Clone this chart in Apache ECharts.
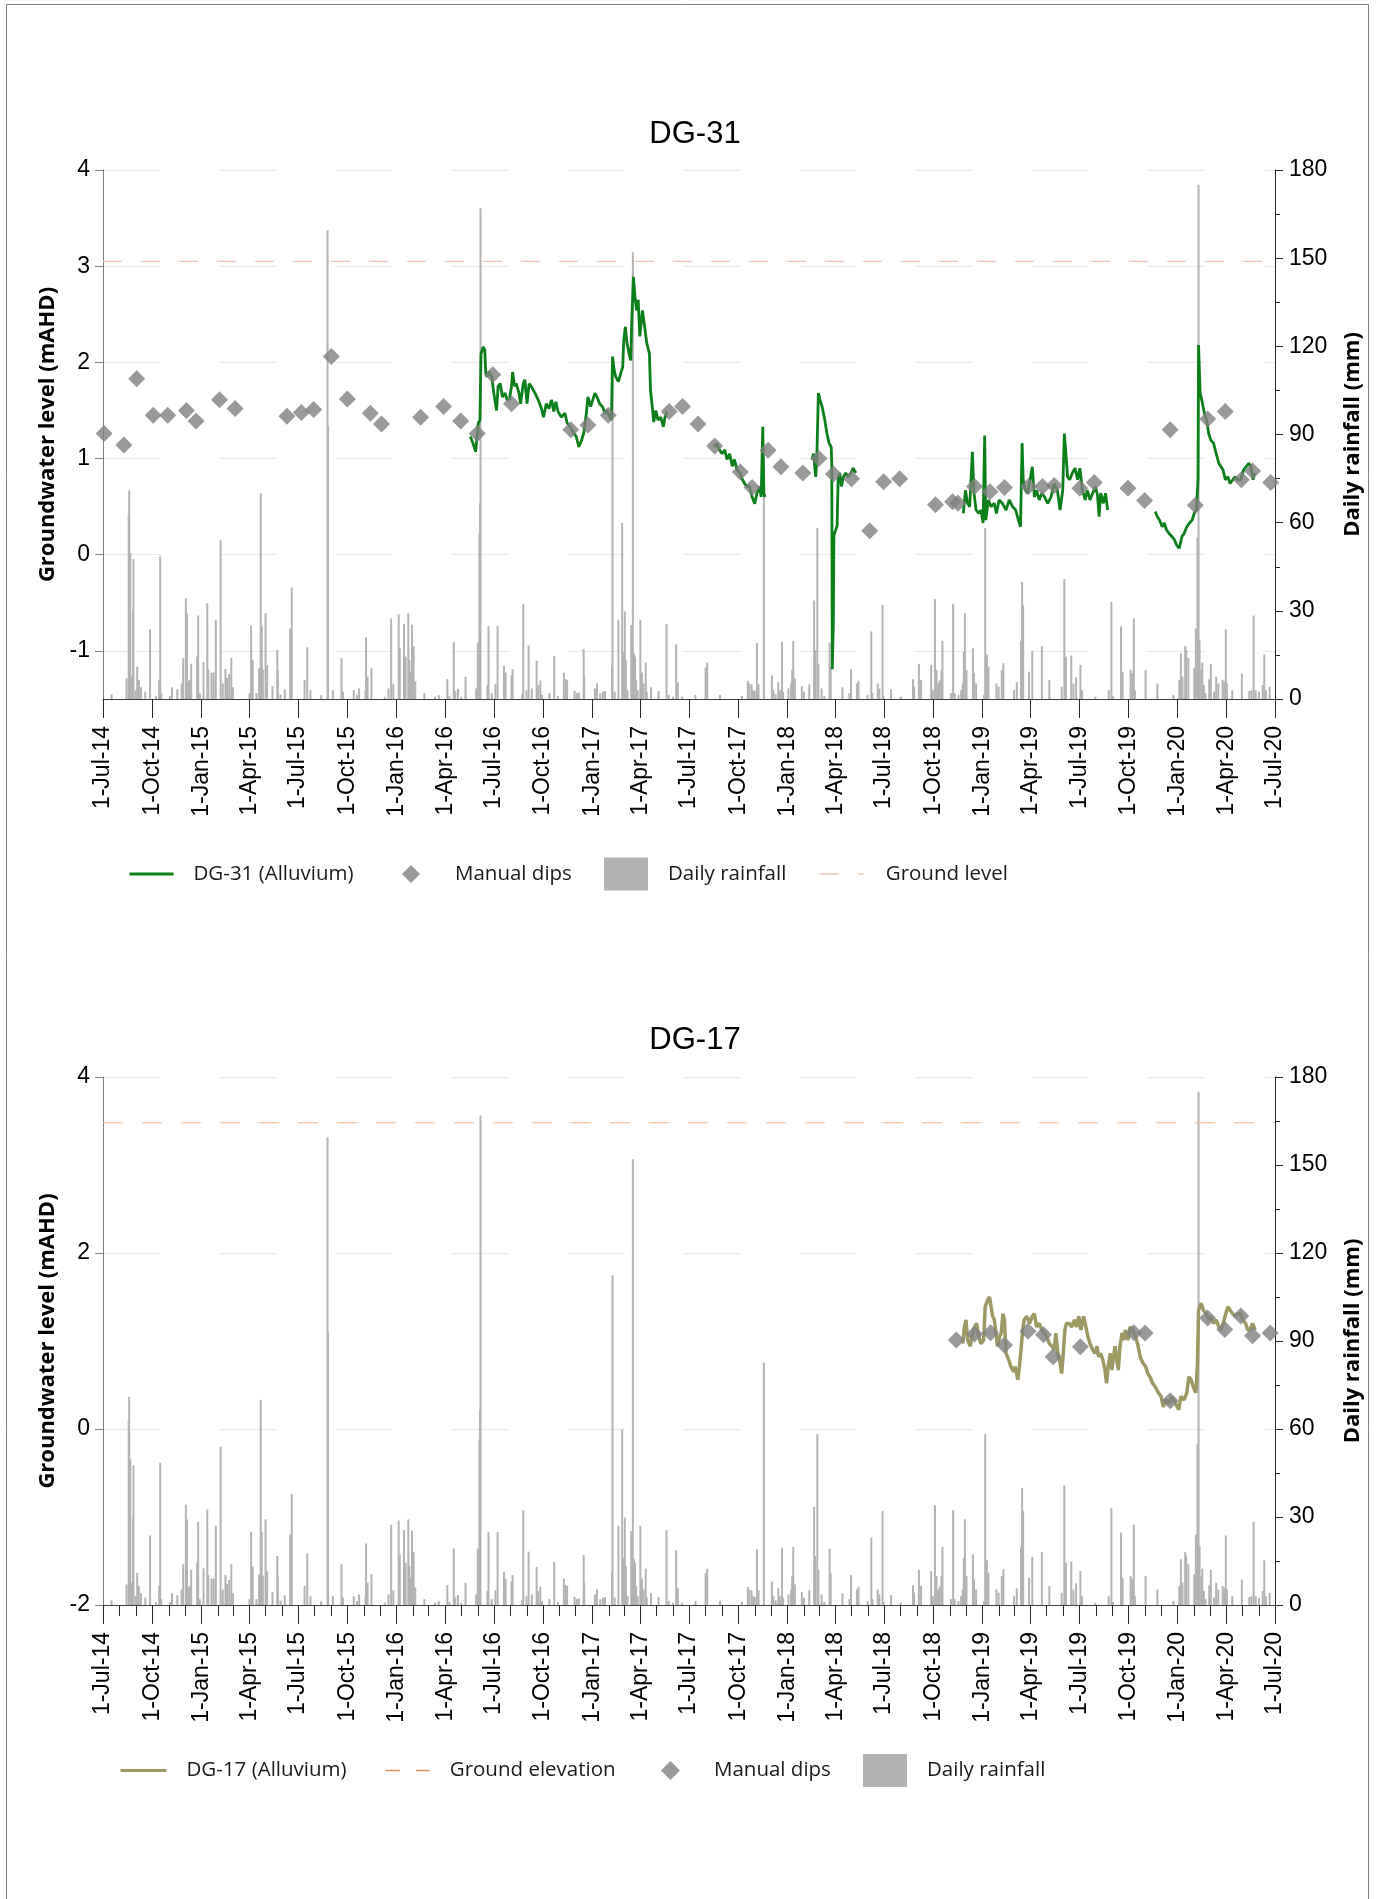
<!DOCTYPE html>
<html><head><meta charset="utf-8">
<script src="https://cdn.jsdelivr.net/npm/echarts@6/dist/echarts.min.js"></script>
<style>html,body{margin:0;padding:0;background:#fff}#c{width:1381px;height:1899px}</style>
</head><body><div id="c"></div>
<script>
// ---------------- DATA ----------------
const X_START = '2014-07-01', X_END = '2020-07-01';
const X_TICKS = ['2014-07-01','2014-10-01','2015-01-01','2015-04-01','2015-07-01','2015-10-01','2016-01-01','2016-04-01','2016-07-01','2016-10-01','2017-01-01','2017-04-01','2017-07-01','2017-10-01','2018-01-01','2018-04-01','2018-07-01','2018-10-01','2019-01-01','2019-04-01','2019-07-01','2019-10-01','2020-01-01','2020-04-01','2020-07-01'];
const X_TICK_LABELS = ['1-Jul-14','1-Oct-14','1-Jan-15','1-Apr-15','1-Jul-15','1-Oct-15','1-Jan-16','1-Apr-16','1-Jul-16','1-Oct-16','1-Jan-17','1-Apr-17','1-Jul-17','1-Oct-17','1-Jan-18','1-Apr-18','1-Jul-18','1-Oct-18','1-Jan-19','1-Apr-19','1-Jul-19','1-Oct-19','1-Jan-20','1-Apr-20','1-Jul-20'];
const GW31_TICKS = [-1, 0, 1, 2, 3, 4];
const GW17_TICKS = [-2, 0, 2, 4];
const RAIN_TICKS = [0, 30, 60, 90, 120, 150, 180];

const GROUND_LEVEL_31 = 3.05;
const GROUND_ELEV_17 = 3.48;

// Daily rainfall (mm)
const RAINFALL = [
['2014-07-17',1.6],['2014-08-14',7],['2014-08-18',62.7],['2014-08-19',71],['2014-08-21',49.7],['2014-08-24',7.6],['2014-08-26',30],['2014-08-27',47.6],['2014-08-31',3],['2014-09-03',11],['2014-09-06',6.5],['2014-09-10',4],['2014-09-18',2.5],['2014-09-27',23.7],['2014-10-08',1],['2014-10-14',6.5],['2014-10-16',48.5],['2014-10-18',2],['2014-11-03',1],['2014-11-07',4],['2014-11-17',3.3],['2014-11-25',5.3],['2014-11-28',13.9],['2014-12-03',34.2],['2014-12-05',29.2],['2014-12-08',6],['2014-12-10',6.5],['2014-12-13',12],['2014-12-24',14.4],['2014-12-26',28.4],['2014-12-29',2],
['2015-01-05',12.5],['2015-01-12',32.6],['2015-01-14',10.2],['2015-01-20',9],['2015-01-24',9],['2015-01-28',27],['2015-02-06',54],['2015-02-10',5.3],['2015-02-15',10.2],['2015-02-18',7.2],['2015-02-22',8.5],['2015-02-26',14],['2015-03-01',4],['2015-04-01',2],['2015-04-04',25],['2015-04-07',13.2],['2015-04-14',2],['2015-04-19',10.4],['2015-04-22',70],['2015-04-24',24.8],['2015-04-26',10],['2015-05-01',29.2],['2015-05-04',11.5],['2015-05-14',4.4],['2015-05-23',16.7],['2015-05-24',9.8],['2015-05-29',1.5],['2015-06-06',3.3],['2015-06-16',24],['2015-06-19',37.9],['2015-07-13',6.5],['2015-07-18',17.6],['2015-07-24',3],['2015-08-13',1.3],['2015-08-25',159.5],['2015-08-26',92.8],['2015-09-04',3],['2015-09-20',13.9],['2015-09-23',2.5],['2015-10-13',3],['2015-10-19',1.3],['2015-10-23',3.6],['2015-11-04',3],['2015-11-05',21],['2015-11-08',7.6],['2015-11-15',10.5],['2015-12-10',0.8],['2015-12-17',3.6],['2015-12-22',27.4],['2015-12-26',5],
['2016-01-05',28.8],['2016-01-07',17.3],['2016-01-15',25.5],['2016-01-18',14.4],['2016-01-23',29.2],['2016-01-25',13.2],['2016-01-28',9.3],['2016-01-30',25.3],['2016-02-02',18],['2016-02-05',6],['2016-02-22',2],['2016-03-13',0.8],['2016-03-20',1.3],['2016-04-05',6.8],['2016-04-09',1],['2016-04-17',19.3],['2016-04-20',2.7],['2016-04-25',3.4],['2016-05-01',0.8],['2016-05-09',7.6],['2016-05-29',3.6],['2016-06-01',19.2],['2016-06-04',56.5],['2016-06-05',66.7],['2016-06-06',167],['2016-06-19',4.8],['2016-06-21',24.8],['2016-06-27',2],['2016-07-04',5],['2016-07-08',24.9],['2016-07-20',11.3],['2016-07-23',9],['2016-08-03',8],['2016-08-05',10.2],['2016-08-23',1.6],['2016-08-25',32.3],['2016-08-31',3],['2016-09-04',18.2],['2016-09-10',3.6],['2016-09-19',13],['2016-09-22',4.8],['2016-09-26',6.3],['2016-09-29',1.4],['2016-10-13',2],['2016-10-22',14.7],['2016-10-29',1],['2016-11-09',9],['2016-11-12',6.8],['2016-11-15',6.5],['2016-11-29',2.8],['2016-12-03',2],['2016-12-07',2.2],['2016-12-16',17],['2016-12-17',7.6],
['2017-01-06',3.6],['2017-01-10',5.3],['2017-01-16',1.9],['2017-01-21',2.5],['2017-01-25',2.7],['2017-02-07',11.5],['2017-02-08',112.4],['2017-02-12',2.5],['2017-02-19',27],['2017-02-26',59.9],['2017-02-28',16],['2017-03-03',29.8],['2017-03-05',13.2],['2017-03-08',3],['2017-03-15',25.2],['2017-03-18',152],['2017-03-20',15.6],['2017-03-22',14.4],['2017-03-24',6.5],['2017-03-27',3],['2017-04-01',27],['2017-04-04',9],['2017-04-07',5.3],['2017-04-11',12.4],['2017-04-13',2.5],['2017-04-21',4],['2017-05-05',2.7],['2017-05-20',25.5],['2017-05-24',1.4],['2017-06-01',0.8],['2017-06-07',18.6],['2017-06-10',5.7],['2017-06-18',0.8],['2017-07-13',1.4],['2017-08-01',10.8],['2017-08-04',12.4],['2017-08-28',1.4],['2017-10-08',1.1],['2017-10-19',6.2],['2017-10-22',5.3],['2017-10-26',5],['2017-10-29',3],['2017-11-01',2.7],['2017-11-05',19],['2017-11-08',5],['2017-11-18',82.6],['2017-12-03',8],['2017-12-06',3],['2017-12-10',1.6],['2017-12-15',5.7],['2017-12-18',3],['2017-12-22',19.5],['2017-12-24',2.5],
['2018-01-03',3.6],['2018-01-08',5.3],['2018-01-10',9.9],['2018-01-12',19.8],['2018-01-15',7],['2018-01-28',4.4],['2018-02-01',2.5],['2018-02-11',5],['2018-02-20',33.5],['2018-02-22',16.7],['2018-02-26',58.2],['2018-02-28',12],['2018-03-06',3.6],['2018-03-11',1],['2018-03-21',19.2],['2018-03-23',11],['2018-04-14',4],['2018-04-27',2],['2018-04-30',10.2],['2018-05-11',5.3],['2018-05-14',6.2],['2018-05-31',1.4],['2018-06-07',23],['2018-06-09',2],['2018-06-19',5.3],['2018-06-22',3.6],['2018-06-28',32],['2018-06-30',1],['2018-07-14',3.3],['2018-08-01',0.8],['2018-08-24',6.7],['2018-08-26',4.2],['2018-09-04',12],['2018-09-08',6.5],['2018-09-27',11.6],['2018-09-30',3],['2018-10-04',34],['2018-10-07',9.9],['2018-10-10',5.3],['2018-10-13',6.3],['2018-10-16',9.9],['2018-10-18',19.8],['2018-11-03',2],['2018-11-07',32.3],['2018-11-10',2],['2018-11-17',1.4],['2018-11-22',3],['2018-11-25',5.3],['2018-11-27',16],['2018-11-29',29.2],['2018-12-02',9.9],['2018-12-14',17.3],['2018-12-16',8.8],['2018-12-20',5.3],
['2019-01-04',1.4],['2019-01-06',58.2],['2019-01-09',15.2],['2019-01-12',11],['2019-01-27',5.3],['2019-01-31',4.2],['2019-02-06',9.9],['2019-02-09',12.2],['2019-03-01',3],['2019-03-06',5.7],['2019-03-14',19.8],['2019-03-16',39.9],['2019-03-18',32],['2019-03-29',9.3],['2019-04-04',16.4],['2019-04-22',18],['2019-05-06',6.5],['2019-05-29',4.2],['2019-06-03',40.8],['2019-06-06',14.4],['2019-06-16',14.8],['2019-06-20',5.3],['2019-06-25',7.4],['2019-07-03',11.6],['2019-07-06',3],['2019-07-31',0.8],['2019-08-25',3],['2019-08-30',33],['2019-09-02',1],['2019-09-17',24.7],['2019-09-20',9.3],['2019-10-05',9.9],['2019-10-08',8.8],['2019-10-11',27.4],['2019-10-13',3],['2019-11-02',9.9],['2019-11-24',5.3],['2019-12-24',1.4],
['2020-01-04',6.5],['2020-01-07',15.6],['2020-01-10',7.6],['2020-01-15',18],['2020-01-17',16.7],['2020-01-21',13.9],['2020-02-01',10.5],['2020-02-04',24],['2020-02-07',55],['2020-02-09',175],['2020-02-11',20],['2020-02-14',9.9],['2020-02-16',12.4],['2020-02-19',4.8],['2020-02-22',2],['2020-02-29',6.7],['2020-03-03',12],['2020-03-09',2.5],['2020-03-13',7.6],['2020-03-17',5.3],['2020-03-25',6.5],['2020-03-28',5.9],['2020-03-31',23.7],['2020-04-02',5.3],['2020-04-12',3],['2020-04-30',8.7],['2020-05-14',2.7],['2020-05-18',3],['2020-05-22',28.4],['2020-05-26',3],['2020-06-01',2.5],['2020-06-08',4.8],['2020-06-11',15.2],['2020-06-14',3],['2020-06-21',4.2]
];

// Manual dips (mAHD)
const DIPS_31 = [['2014-07-03',1.26],['2014-08-09',1.14],['2014-09-02',1.83],['2014-10-03',1.45],['2014-10-30',1.45],['2014-12-04',1.50],['2014-12-22',1.39],['2015-02-04',1.61],['2015-03-05',1.52],['2015-06-10',1.44],['2015-07-07',1.48],['2015-07-30',1.51],['2015-09-01',2.06],['2015-10-01',1.62],['2015-11-13',1.47],['2015-12-04',1.36],['2016-02-15',1.43],['2016-03-29',1.54],['2016-04-30',1.39],['2016-05-31',1.26],['2016-06-29',1.87],['2016-08-03',1.57],['2016-11-22',1.30],['2016-12-24',1.35],['2017-01-31',1.45],['2017-05-25',1.49],['2017-06-19',1.54],['2017-07-18',1.36],['2017-08-18',1.13],['2017-10-05',0.86],['2017-10-27',0.70],['2017-11-26',1.085],['2017-12-20',0.915],['2018-01-30',0.85],['2018-03-01',1.0],['2018-03-28',0.84],['2018-05-01',0.79],['2018-06-04',0.25],['2018-06-30',0.76],['2018-07-30',0.79],['2018-10-05',0.52],['2018-11-06',0.55],['2018-11-16',0.535],['2018-12-17',0.71],['2019-01-15',0.655],['2019-02-11',0.70],['2019-03-28',0.71],['2019-04-23',0.71],['2019-05-15',0.72],['2019-07-02',0.69],['2019-07-29',0.75],['2019-09-30',0.69],['2019-10-31',0.565],['2019-12-18',1.30],['2020-02-03',0.515],['2020-02-26',1.41],['2020-03-30',1.49],['2020-04-29',0.78],['2020-05-20',0.87],['2020-06-23',0.75]];
const DIPS_17 = [['2018-11-13',1.01],['2018-12-17',1.08],['2019-01-16',1.095],['2019-02-11',0.955],['2019-03-27',1.11],['2019-04-25',1.07],['2019-05-13',0.82],['2019-07-03',0.935],['2019-10-11',1.095],['2019-11-01',1.09],['2019-12-18',0.32],['2020-02-26',1.26],['2020-03-29',1.13],['2020-04-28',1.285],['2020-05-20',1.06],['2020-06-22',1.09]];

// Logger records: [days since LOGGER_ORIGIN, mAHD], one array per continuous record
const LOGGER_ORIGIN = '2014-07-01';
const DG31_REC_A = [[687,1.23],[692,1.16],[697,1.07],[702,1.37],[705,1.40],[707,2.09],[711,2.16],[714,2.13],[716,1.88],[718,1.85],[722,1.90],[727,1.85],[731,1.68],[736,1.50],[739,1.75],[743,1.78],[747,1.64],[752,1.68],[756,1.61],[760,1.61],[764,1.75],[766,1.90],[770,1.75],[773,1.78],[778,1.68],[781,1.57],[786,1.78],[789,1.82],[793,1.57],[797,1.78],[801,1.75],[808,1.68],[814,1.61],[820,1.52],[824,1.43],[829,1.57],[834,1.52],[839,1.61],[843,1.49],[847,1.59],[851,1.49],[857,1.43],[864,1.47],[868,1.37],[874,1.33],[881,1.26],[885,1.23],[890,1.12],[895,1.19],[899,1.26],[904,1.47],[907,1.64],[912,1.54],[916,1.61],[920,1.68],[924,1.64],[929,1.57],[934,1.54],[939,1.47],[942,1.50],[948,1.43],[951,1.40],[953,2.06],[956,1.92],[959,1.85],[964,1.80],[968,1.88],[972,1.95],[974,2.23],[977,2.37],[980,2.20],[984,2.09],[987,2.02],[989,2.44],[992,2.89],[995,2.68],[998,2.54],[1001,2.65],[1004,2.27],[1009,2.54],[1014,2.33],[1017,2.20],[1022,2.09],[1024,1.71],[1028,1.50],[1030,1.38],[1034,1.50],[1038,1.40],[1043,1.43],[1048,1.33],[1051,1.43],[1055,1.49]];
const DG31_REC_B = [[1144,1.12],[1148,1.16],[1153,1.09],[1158,1.05],[1163,1.09],[1167,0.99],[1172,1.05],[1177,0.92],[1181,0.99],[1186,0.88],[1191,0.85],[1196,0.78],[1200,0.74],[1204,0.71],[1209,0.71],[1214,0.60],[1219,0.53],[1223,0.64],[1228,0.71],[1231,0.60],[1234,1.33],[1236,0.64],[1238,0.60]];
const DG31_REC_C = [[1326,0.99],[1329,1.05],[1333,0.81],[1335,0.99],[1338,1.68],[1341,1.61],[1345,1.54],[1350,1.40],[1354,1.26],[1358,1.16],[1362,1.12],[1363,0.95],[1364,-1.19],[1366,-0.70],[1367,0.20],[1370,0.25],[1373,0.30],[1375,0.80],[1378,0.85],[1381,0.71],[1385,0.81],[1389,0.85],[1394,0.81],[1399,0.85],[1403,0.90],[1408,0.85]];
const DG31_REC_D = [[1609,0.43],[1613,0.67],[1617,0.535],[1621,0.50],[1626,1.07],[1629,0.64],[1633,0.465],[1638,0.43],[1642,0.465],[1646,0.33],[1649,1.24],[1651,0.36],[1656,0.57],[1661,0.50],[1667,0.535],[1671,0.43],[1676,0.57],[1682,0.535],[1689,0.465],[1695,0.57],[1701,0.50],[1707,0.465],[1712,0.36],[1716,0.29],[1719,1.16],[1721,0.78],[1725,0.67],[1729,0.64],[1734,0.78],[1738,0.915],[1742,0.60],[1746,0.67],[1751,0.57],[1756,0.64],[1761,0.60],[1767,0.535],[1773,0.60],[1779,0.74],[1785,0.67],[1790,0.465],[1795,0.67],[1798,1.26],[1801,1.05],[1804,0.81],[1808,0.78],[1813,0.85],[1818,0.90],[1823,0.78],[1827,0.90],[1832,0.67],[1837,0.57],[1841,0.67],[1846,0.57],[1851,0.64],[1856,0.71],[1860,0.62],[1863,0.395],[1866,0.64],[1871,0.535],[1875,0.64],[1879,0.465]];
const DG31_REC_E = [[1968,0.45],[1972,0.395],[1976,0.36],[1981,0.29],[1985,0.33],[1989,0.26],[1994,0.22],[1999,0.19],[2004,0.155],[2008,0.10],[2013,0.067],[2018,0.19],[2022,0.22],[2027,0.29],[2032,0.33],[2037,0.36],[2041,0.43],[2045,0.465],[2048,0.78],[2049,2.18],[2052,1.68],[2055,1.61],[2060,1.47],[2064,1.40],[2068,1.26],[2072,1.19],[2077,1.16],[2082,1.05],[2087,0.95],[2091,0.915],[2095,0.88],[2099,0.78],[2104,0.81],[2108,0.74],[2113,0.78],[2118,0.81],[2122,0.78],[2128,0.78],[2133,0.88],[2138,0.915],[2143,0.95],[2147,0.915],[2151,0.78],[2154,0.85]];
const DG17_REC = [[1608,0.97],[1611,1.16],[1614,1.24],[1617,1.01],[1622,0.94],[1625,1.05],[1630,1.16],[1634,1.20],[1638,1.05],[1642,0.97],[1647,1.01],[1650,1.39],[1655,1.47],[1658,1.50],[1661,1.39],[1664,1.28],[1667,1.24],[1670,1.09],[1673,0.94],[1677,1.05],[1680,1.09],[1683,1.31],[1686,1.24],[1689,0.86],[1694,0.785],[1698,0.71],[1703,0.65],[1706,0.71],[1711,0.56],[1714,0.71],[1717,0.90],[1720,1.125],[1723,1.24],[1728,1.28],[1733,1.20],[1738,1.28],[1742,1.31],[1746,1.16],[1751,1.20],[1756,1.125],[1761,1.09],[1765,1.05],[1770,0.97],[1775,0.94],[1779,0.90],[1782,1.09],[1786,0.86],[1790,0.75],[1793,0.63],[1796,0.86],[1799,1.125],[1802,1.20],[1807,1.20],[1812,1.16],[1817,1.24],[1821,1.16],[1825,1.28],[1829,1.125],[1834,1.28],[1837,1.20],[1842,1.05],[1846,0.97],[1851,0.90],[1855,0.86],[1859,0.94],[1862,0.82],[1866,0.86],[1870,0.785],[1874,0.67],[1877,0.52],[1880,0.71],[1884,0.86],[1887,0.67],[1890,0.82],[1893,0.94],[1896,0.785],[1899,0.67],[1902,0.94],[1906,1.09],[1909,1.01],[1912,1.125],[1917,1.01],[1921,1.16],[1926,1.125],[1931,1.05],[1935,0.97],[1940,0.82],[1945,0.75],[1950,0.71],[1954,0.63],[1958,0.595],[1963,0.52],[1968,0.48],[1973,0.42],[1979,0.37],[1983,0.25],[1988,0.33],[1994,0.29],[1999,0.37],[2006,0.29],[2012,0.22],[2016,0.37],[2022,0.33],[2027,0.41],[2031,0.595],[2035,0.56],[2039,0.48],[2044,0.41],[2047,0.75],[2049,1.35],[2054,1.43],[2058,1.35],[2063,1.31],[2068,1.24],[2072,1.28],[2077,1.20],[2082,1.24],[2087,1.16],[2091,1.125],[2095,1.20],[2100,1.31],[2104,1.39],[2108,1.35],[2113,1.31],[2118,1.28],[2122,1.31],[2127,1.31],[2132,1.24],[2137,1.20],[2141,1.125],[2145,1.125],[2150,1.20],[2155,1.125]];

// ---------------- HELPERS ----------------
function ts(s){ const p = s.split('-').map(Number); return new Date(p[0], p[1]-1, p[2]).getTime(); }
const ORIGIN = LOGGER_ORIGIN.split('-').map(Number);
function dayTs(n){ return new Date(ORIGIN[0], ORIGIN[1]-1, ORIGIN[2] + n).getTime(); }
function joinRecords(recs){
  const out = [];
  recs.forEach((r, i) => {
    if (i > 0) out.push([dayTs(recs[i-1][recs[i-1].length-1][0] + 1), null]);
    r.forEach(p => out.push([dayTs(p[0]), p[1]]));
  });
  return out;
}
const X_MIN = ts(X_START), X_MAX = ts(X_END);
const X_TICK_TS = X_TICKS.map(ts);
const LABEL_BY_TS = {}; X_TICK_TS.forEach((t,i) => LABEL_BY_TS[t] = X_TICK_LABELS[i]);
const MONTH_TICKS = [];
for (let y = 2014, m = 6; y < 2020 || (y === 2020 && m <= 6); ) { MONTH_TICKS.push(new Date(y, m, 1).getTime()); m++; if (m > 11) { m = 0; y++; } }

const rainData = RAINFALL.map(r => [ts(r[0]), r[1]]);
const dips31 = DIPS_31.map(r => [ts(r[0]), r[1]]);
const dips17 = DIPS_17.map(r => [ts(r[0]), r[1]]);
const dg31 = joinRecords([DG31_REC_A, DG31_REC_B, DG31_REC_C, DG31_REC_D, DG31_REC_E]);
const dg17 = joinRecords([DG17_REC]);

// ---------------- STYLE ----------------
const TICK_FONT = 'Liberation Sans, Arial, sans-serif';
const NAME_FONT = 'Open Sans, sans-serif';
const GRID_LINE = { show: true, lineStyle: { color: '#e8e8e8', width: 1, type: [58, 58] } };

function xAxisMain(gi){
  return { gridIndex: gi, type: 'value', min: X_MIN, max: X_MAX, position: 'bottom', scale: true,
    axisLine: { show: true, onZero: false, lineStyle: { color: '#404040', width: 1 } },
    axisTick: { show: true, customValues: X_TICK_TS, length: 19, inside: false, lineStyle: { color: '#262626', width: 1 } },
    axisLabel: { show: true, customValues: X_TICK_TS, rotate: 90, margin: 27, fontFamily: TICK_FONT, fontSize: 23, color: '#000',
      formatter: v => LABEL_BY_TS[v] || '' },
    splitLine: { show: false } };
}
function leftAxis(gi, min, max, ticks){
  return { gridIndex: gi, type: 'value', min: min, max: max, position: 'left',
    name: 'Groundwater level (mAHD)', nameLocation: 'middle', nameGap: 37, nameRotate: 90,
    nameTextStyle: { fontFamily: NAME_FONT, fontWeight: 'bold', fontSize: 22, color: '#000' },
    axisLine: { show: true, onZero: false, lineStyle: { color: '#7f7f7f', width: 1 } },
    axisTick: { show: true, customValues: ticks, length: 8, lineStyle: { color: '#7f7f7f' } },
    axisLabel: { customValues: ticks, margin: 13, fontFamily: TICK_FONT, fontSize: 23, color: '#000' },
    splitLine: GRID_LINE };
}
function rightAxis(gi){
  return { gridIndex: gi, type: 'value', min: RAIN_TICKS[0], max: RAIN_TICKS[RAIN_TICKS.length-1], interval: 30, position: 'right',
    name: 'Daily rainfall (mm)', nameLocation: 'middle', nameGap: 67, nameRotate: 90,
    nameTextStyle: { fontFamily: NAME_FONT, fontWeight: 'bold', fontSize: 22, color: '#000' },
    axisLine: { show: true, onZero: false, lineStyle: { color: '#262626', width: 1 } },
    axisTick: { show: true, length: 8, lineStyle: { color: '#262626' } },
    minorTick: { show: true, splitNumber: 2, length: 5, lineStyle: { color: '#262626' } },
    axisLabel: { margin: 14, fontFamily: TICK_FONT, fontSize: 23, color: '#000' },
    splitLine: { show: false }, minorSplitLine: { show: false } };
}
const LEG_TEXT = { fontFamily: NAME_FONT, fontSize: 20.5, color: '#1a1a1a', lineHeight: 24 };
function legendItem(item, left, cy, w, h, padLeft, extra){
  return Object.assign({ data: [item], left: left, top: cy - Math.max(h, 24) / 2, orient: 'horizontal', padding: 0,
    itemWidth: w, itemHeight: h, selectedMode: false,
    textStyle: Object.assign({}, LEG_TEXT, { padding: [0, 0, 0, padLeft] }) }, extra || {});
}
const HIDE_SYMBOL = { opacity: 0 };

const option = {
  animation: false,
  backgroundColor: '#ffffff',
  title: [
    { text: 'DG-31', left: 695, top: 119, textAlign: 'center', padding: 0, textStyle: { fontFamily: TICK_FONT, fontSize: 31, fontWeight: 'normal', color: '#000' } },
    { text: 'DG-17', left: 695, top: 1025, textAlign: 'center', padding: 0, textStyle: { fontFamily: TICK_FONT, fontSize: 31, fontWeight: 'normal', color: '#000' } }
  ],
  grid: [
    { left: 103, top: 170, width: 1172, height: 529, containLabel: false, outerBoundsMode: 'none' },
    { left: 103, top: 1077, width: 1172, height: 528, containLabel: false, outerBoundsMode: 'none' }
  ],
  xAxis: [
    xAxisMain(0),
    xAxisMain(1),
    { gridIndex: 1, type: 'value', min: X_MIN, max: X_MAX, position: 'bottom', scale: true,
      axisLine: { show: false, onZero: false }, axisLabel: { show: false, customValues: MONTH_TICKS }, splitLine: { show: false },
      axisTick: { show: true, customValues: MONTH_TICKS, length: 11, lineStyle: { color: '#262626', width: 1 } } }
  ],
  yAxis: [
    leftAxis(0, -1.5, 4, GW31_TICKS),
    rightAxis(0),
    leftAxis(1, -2, 4, GW17_TICKS),
    rightAxis(1)
  ],
  legend: [
    legendItem({ name: 'DG-31 (Alluvium)', itemStyle: HIDE_SYMBOL, lineStyle: { width: 3 } }, 128, 874, 44, 14, 15),
    legendItem('Manual dips', 402, 874, 18, 18, 30, { icon: 'diamond' }),
    legendItem('Daily rainfall', 604, 874, 44, 33, 15, { icon: 'rect' }),
    legendItem({ name: 'Ground level', itemStyle: HIDE_SYMBOL, lineStyle: { color: '#f0c6b8', width: 1.5, type: [19, 19] } }, 819, 874, 44, 14, 17),
    legendItem({ name: 'DG-17 (Alluvium)', itemStyle: HIDE_SYMBOL, lineStyle: { width: 3 } }, 119, 1770.5, 46, 14, 15),
    legendItem({ name: 'Ground elevation', itemStyle: HIDE_SYMBOL, lineStyle: { color: '#d9935c', width: 1.5, type: [14, 16] } }, 385, 1770.5, 44, 14, 15),
    legendItem('Manual dips', 661, 1770.5, 19, 19, 29, { icon: 'diamond' }),
    legendItem('Daily rainfall', 863, 1770.5, 44, 33, 15, { icon: 'rect' })
  ],
  graphic: [
    { type: 'rect', silent: true, z: -10, shape: { x: 6.5, y: 4.5, width: 1362, height: 1900 }, style: { fill: 'none', stroke: '#808080', lineWidth: 1 } }
  ],
  series: [
    { name: 'Daily rainfall', type: 'bar', xAxisIndex: 0, yAxisIndex: 1, data: rainData, barWidth: 2, barGap: '-100%', itemStyle: { color: '#b3b3b3' }, z: 1 },
    { name: 'Ground level', type: 'line', xAxisIndex: 0, yAxisIndex: 0, data: [[X_MIN, GROUND_LEVEL_31], [X_MAX, GROUND_LEVEL_31]], showSymbol: false, symbol: 'none',
      lineStyle: { color: '#eec6b8', width: 1.2, type: [19, 19] }, itemStyle: { color: '#eec6b8' }, z: 2 },
    { name: 'DG-31 (Alluvium)', type: 'line', xAxisIndex: 0, yAxisIndex: 0, data: dg31, showSymbol: false, symbol: 'none', connectNulls: false,
      lineStyle: { color: '#0b7f18', width: 2.8 }, itemStyle: { color: '#0b7f18' }, z: 3 },
    { name: 'Manual dips', type: 'scatter', xAxisIndex: 0, yAxisIndex: 0, data: dips31, symbol: 'diamond', symbolSize: 17, itemStyle: { color: '#808080' }, z: 4 },

    { name: 'Daily rainfall', type: 'bar', xAxisIndex: 1, yAxisIndex: 3, data: rainData, barWidth: 2, barGap: '-100%', itemStyle: { color: '#b3b3b3' }, z: 1 },
    { name: 'Ground elevation', type: 'line', xAxisIndex: 1, yAxisIndex: 2, data: [[X_MIN, GROUND_ELEV_17], [X_MAX, GROUND_ELEV_17]], showSymbol: false, symbol: 'none',
      lineStyle: { color: '#f2b894', width: 1.2, type: [20, 19] }, itemStyle: { color: '#f2b894' }, z: 2 },
    { name: 'DG-17 (Alluvium)', type: 'line', xAxisIndex: 1, yAxisIndex: 2, data: dg17, showSymbol: false, symbol: 'none', connectNulls: false,
      lineStyle: { color: '#9c9a62', width: 3.5 }, itemStyle: { color: '#9c9a62' }, z: 3 },
    { name: 'Manual dips', type: 'scatter', xAxisIndex: 1, yAxisIndex: 2, data: dips17, symbol: 'diamond', symbolSize: 17, itemStyle: { color: '#808080' }, z: 4 }
  ]
};

const chart = echarts.init(document.getElementById('c'), null, { renderer: 'canvas', width: 1381, height: 1899 });
chart.setOption(option);
</script></body></html>
